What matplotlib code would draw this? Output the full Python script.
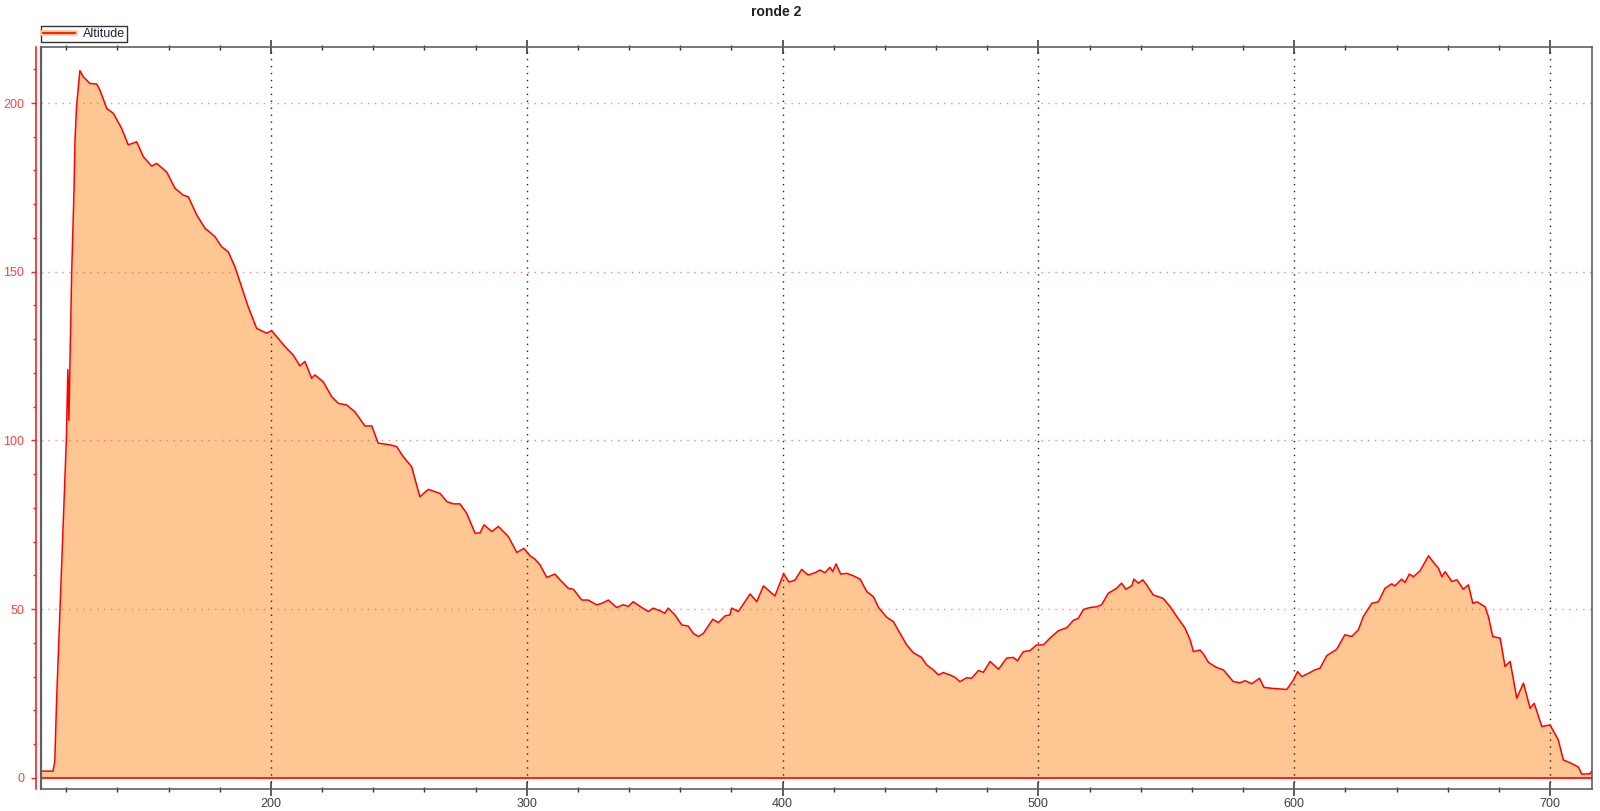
import matplotlib
matplotlib.use("Agg")
import matplotlib.pyplot as plt
from matplotlib.lines import Line2D
from matplotlib.ticker import MultipleLocator

plt.rcParams['font.family'] = ['Liberation Sans', 'DejaVu Sans']

title = "ronde 2"
series_name = "Altitude"

distance = [110.1, 114.8, 115.5, 116.2, 120.0, 120.6, 121.0, 122.1, 123.0, 123.4, 124.0,
            125.3, 126.6, 129.2, 131.9, 133.1, 135.8, 138.4, 141.6, 144.2, 147.5, 150.1,
            153.4, 155.3, 159.2, 162.5, 165.7, 167.7, 171.0, 174.2, 178.1, 180.7, 183.3,
            185.9, 188.5, 191.1, 194.4, 198.3, 200.3, 202.2, 205.5, 208.7, 211.3, 213.3,
            215.9, 217.2, 220.4, 223.7, 226.3, 229.6, 232.8, 236.7, 239.4, 241.9, 246.5,
            249.1, 251.7, 255.0, 258.2, 261.5, 266.1, 268.7, 271.3, 273.9, 276.5, 279.8,
            281.7, 283.3, 286.3, 288.9, 292.8, 296.1, 298.9, 301.3, 303.2, 305.2, 307.8,
            311.0, 313.0, 316.2, 318.2, 321.5, 324.0, 327.3, 329.3, 331.9, 335.1, 337.7,
            339.7, 341.6, 344.9, 347.5, 349.4, 352.1, 354.0, 355.3, 357.9, 360.6, 363.1,
            365.1, 367.1, 369.0, 372.7, 374.9, 377.5, 379.4, 380.1, 382.7, 387.3, 389.9,
            392.5, 397.0, 400.4, 402.5, 404.8, 407.5, 410.0, 412.7, 414.6, 416.6, 418.5,
            419.6, 420.9, 422.7, 425.1, 427.6, 430.3, 432.9, 435.5, 437.5, 440.7, 443.3,
            446.0, 448.5, 451.1, 454.3, 456.3, 458.9, 460.9, 462.8, 465.4, 467.4, 469.3,
            472.0, 473.9, 476.5, 478.5, 481.1, 484.4, 487.6, 490.2, 491.8, 494.1, 496.7,
            499.3, 501.9, 504.5, 507.8, 511.1, 513.7, 515.6, 517.6, 520.2, 522.8, 524.7,
            527.3, 530.6, 532.5, 534.2, 536.5, 537.3, 539.1, 540.8, 542.3, 544.9, 548.8,
            551.5, 554.1, 557.3, 559.3, 560.6, 563.2, 564.5, 566.5, 569.7, 572.3, 576.2,
            578.8, 580.8, 583.4, 586.4, 588.2, 591.8, 597.1, 599.7, 601.3, 603.0, 605.6,
            608.1, 610.1, 612.7, 616.6, 619.8, 622.5, 625.1, 627.0, 630.3, 632.9, 635.5,
            638.1, 639.4, 642.0, 643.3, 645.0, 646.6, 649.2, 652.5, 654.5, 656.4, 657.7,
            659.0, 661.6, 663.6, 666.1, 668.1, 669.8, 671.4, 674.6, 675.9, 677.6, 680.5,
            682.4, 684.4, 687.0, 689.6, 692.2, 693.8, 696.8, 700.0, 703.2, 705.2, 707.8,
            711.1, 712.4, 715.6, 716.3]

altitude = [2.0, 2.0, 5.0, 23.0, 100.0, 121.0, 106.0, 150.0, 174.0, 189.0, 199.0,
            209.6, 207.8, 205.8, 205.6, 203.9, 198.4, 196.9, 192.5, 187.6, 188.5, 184.1,
            181.3, 182.1, 179.6, 174.7, 172.7, 172.2, 166.8, 162.9, 160.4, 157.4, 155.9,
            151.5, 145.6, 139.6, 133.2, 131.8, 132.5, 130.8, 127.8, 125.3, 122.1, 123.4,
            118.4, 119.4, 117.4, 113.0, 111.0, 110.5, 108.5, 104.3, 104.3, 99.2, 98.7,
            98.2, 95.2, 92.2, 83.3, 85.5, 84.3, 81.9, 81.2, 81.2, 78.4, 72.5,
            72.6, 75.0, 73.0, 74.5, 71.5, 66.8, 68.0, 65.8, 64.8, 63.1, 59.4,
            60.4, 58.7, 56.2, 55.9, 52.7, 52.7, 51.3, 51.7, 52.7, 50.5, 51.3,
            50.8, 52.2, 50.5, 49.3, 50.3, 49.5, 48.8, 50.3, 48.3, 45.3, 45.0,
            42.8, 41.9, 42.8, 47.0, 46.0, 48.0, 48.3, 50.3, 49.3, 54.5, 52.2,
            56.9, 53.9, 60.5, 58.0, 58.6, 61.8, 60.1, 60.8, 61.6, 60.8, 62.4,
            61.1, 63.4, 60.4, 60.6, 59.9, 58.9, 55.2, 53.7, 50.5, 47.6, 46.3,
            42.7, 39.4, 37.1, 35.7, 33.5, 32.0, 30.5, 31.2, 30.5, 29.8, 28.5,
            29.7, 29.5, 31.8, 31.3, 34.5, 32.2, 35.5, 35.7, 34.7, 37.4, 37.7,
            39.4, 39.4, 41.4, 43.6, 44.5, 46.7, 47.3, 49.9, 50.5, 50.7, 51.3,
            54.7, 56.2, 57.7, 55.9, 56.9, 58.9, 57.7, 58.7, 57.2, 54.2, 53.2,
            50.7, 47.8, 44.4, 40.9, 37.4, 37.9, 36.7, 34.2, 32.7, 32.0, 28.5,
            28.2, 28.8, 27.9, 29.5, 26.8, 26.5, 26.2, 29.0, 31.5, 30.0, 31.0,
            32.0, 32.5, 36.2, 38.1, 42.4, 41.9, 43.9, 47.8, 51.7, 52.2, 56.2,
            57.5, 56.9, 58.9, 57.9, 60.4, 59.6, 61.4, 65.8, 63.8, 62.1, 59.6,
            61.1, 58.2, 58.7, 55.9, 57.2, 51.7, 52.2, 50.7, 47.8, 41.9, 41.4,
            33.0, 34.5, 23.6, 28.1, 20.6, 22.1, 15.2, 15.7, 11.3, 5.3, 4.5,
            3.2, 1.1, 1.2, 1.9]

x_major_ticks = [200, 300, 400, 500, 600, 700]
y_major_ticks = [0, 50, 100, 150, 200]

W, H = 1600, 811
fig = plt.figure(figsize=(W / 100, H / 100), dpi=100)
ax = fig.add_axes([41 / W, 1 - 789 / H, (1592 - 41) / W, (789 - 47) / H])

fill_color = '#FDC692'
line_color = '#FF0000'

ax.fill_between(distance, altitude, 0, color=fill_color, linewidth=0, zorder=2)
ax.plot(distance, altitude, color=line_color, lw=1.1, zorder=3)
ax.axhline(0, color=line_color, lw=1.2, zorder=3)

ax.set_xlim(110.1, 716.4)
ax.set_ylim(-3.3, 216.6)

ax.set_xticks(x_major_ticks)
ax.xaxis.set_minor_locator(MultipleLocator(20))
ax.set_yticks(y_major_ticks)
ax.yaxis.set_minor_locator(MultipleLocator(10))

# grids
for xv in x_major_ticks:
    ax.axvline(xv, color='#202020', lw=1.0, linestyle=(0, (1, 4)), zorder=2.5)
for yv in y_major_ticks[1:]:
    ax.axhline(yv, color='#FF6060', lw=1.0, linestyle=(0, (1, 4)), alpha=0.8, zorder=2.5)

# spines
for s in ['top', 'right', 'bottom']:
    ax.spines[s].set_color('#606060')
    ax.spines[s].set_linewidth(1.2)
ax.spines['left'].set_position(('outward', 3.6))
ax.spines['left'].set_color('#FF2020')
ax.spines['left'].set_linewidth(1.2)
ax.plot([0, 0], [0, 1], transform=ax.transAxes, color='#606060', lw=1.6,
        clip_on=False, zorder=5)

ax.tick_params(axis='x', which='major', direction='inout', length=9.4, width=1.1,
               color='#303030', labelsize=9, labelcolor='#404040', pad=2,
               top=True, bottom=True)
ax.tick_params(axis='x', which='minor', direction='inout', length=3.6, width=1.0,
               color='#303030', top=True, bottom=True)
ax.tick_params(axis='y', which='major', direction='out', length=3.6, width=1.0,
               color='#FF2020', labelsize=9, labelcolor='#FF4040', pad=5)
ax.tick_params(axis='y', which='minor', direction='out', length=2.2, width=1.0,
               color='#FF2020')

fig.text(776 / W, 1 - 12 / H, title, ha='center', va='center',
         fontsize=10, fontweight='bold', color='#202020')

h1 = Line2D([], [], color=fill_color, lw=4)
h2 = Line2D([], [], color=line_color, lw=1.2)
leg = fig.legend([(h1, h2)], [series_name], loc='upper left',
                 bbox_to_anchor=(41 / W, 1 - 26 / H), borderaxespad=0,
                 fontsize=9, frameon=True, fancybox=False, handlelength=2.6,
                 borderpad=0.15, handletextpad=0.6, labelcolor='#202040')
leg.get_frame().set_edgecolor('#000000')
leg.get_frame().set_linewidth(1.0)

fig.savefig('out.png', dpi=100)
